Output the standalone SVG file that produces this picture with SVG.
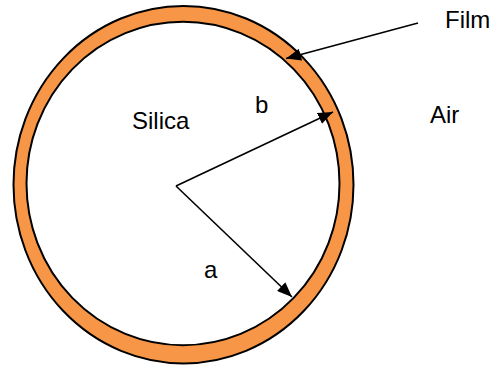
<svg xmlns="http://www.w3.org/2000/svg" width="496" height="369" viewBox="0 0 496 369">
<defs>
<style>
.ring{fill:#F79646;stroke:#000;stroke-width:2}
.core{fill:#fff;stroke:#000;stroke-width:2}
.conn{fill:none;stroke:#000;stroke-width:1.6}
.lbl{font-family:"Liberation Sans",Arial,sans-serif;font-size:24px;fill:#000}
</style>
<marker id="ah" markerUnits="userSpaceOnUse" markerWidth="16" markerHeight="12" refX="15" refY="6" orient="auto">
<path d="M0,0 L15,6 L0,12 Z" fill="#000"/>
</marker>
</defs>
<rect width="496" height="369" fill="#fff"/>
<g id="film-ring">
<ellipse class="ring" cx="183.5" cy="184.7" rx="170" ry="178.7"/>
</g>
<g id="silica-core">
<ellipse class="core" cx="183" cy="183.5" rx="156.5" ry="161.7"/>
</g>
<g id="connectors">
<path class="conn" d="M176,186 L333,112" marker-end="url(#ah)"/>
<path class="conn" d="M176,186 L292,297" marker-end="url(#ah)"/>
<path class="conn" d="M418,23 L286,58.5" marker-end="url(#ah)"/>
</g>
<g id="label-film"><text class="lbl" x="445" y="27.5">Film</text></g>
<g id="label-air"><text class="lbl" x="430" y="122.5">Air</text></g>
<g id="label-silica"><text class="lbl" x="132" y="129">Silica</text></g>
<g id="label-b"><text class="lbl" x="255" y="113">b</text></g>
<g id="label-a"><text class="lbl" x="204" y="278">a</text></g>
</svg>
